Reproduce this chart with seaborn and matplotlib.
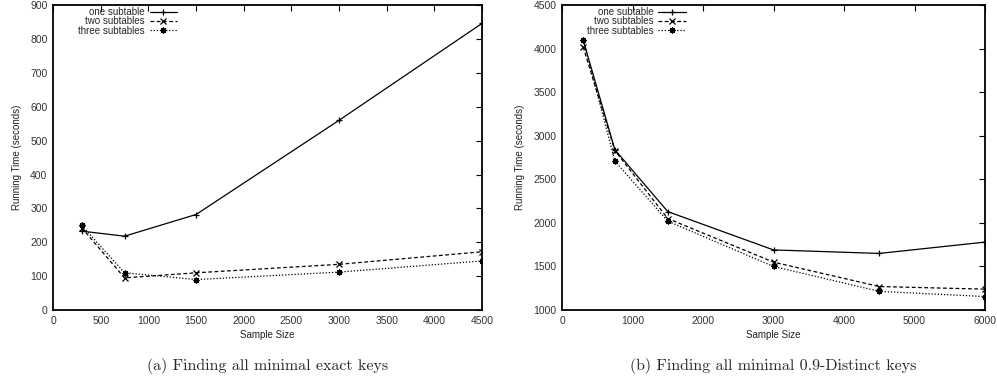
import matplotlib
matplotlib.use("Agg")
import matplotlib.pyplot as plt
import seaborn as sns
import pandas as pd

series_names = ["one subtable", "two subtables", "three subtables"]

# (a) exact keys
x_a = [300, 750, 1500, 3000, 4500]
one_a = [233, 218, 282, 560, 846]
two_a = [243, 95, 110, 135, 172]
three_a = [250, 110, 90, 112, 145]

# (b) 0.9-distinct keys
x_b = [300, 750, 1500, 3000, 4500, 6000]
one_b = [4100, 2840, 2130, 1690, 1650, 1780]
two_b = [4020, 2830, 2050, 1550, 1270, 1240]
three_b = [4100, 2710, 2020, 1500, 1215, 1155]

xticks_a = list(range(0, 4501, 500))
yticks_a = list(range(0, 901, 100))
xticks_b = list(range(0, 6001, 1000))
yticks_b = list(range(1000, 4501, 500))

caption_a = "(a) Finding all minimal exact keys"
caption_b = "(b) Finding all minimal 0.9-Distinct keys"
xlabel = "Sample Size"
ylabel = "Running Time (seconds)"


def long_df(x, ys):
    rows = []
    for name, vals in zip(series_names, ys):
        for xi, yi in zip(x, vals):
            rows.append({"x": xi, "y": yi, "series": name})
    return pd.DataFrame(rows)


sns.set_theme(style="white")
plt.rcParams["font.family"] = ["Liberation Sans", "DejaVu Sans"]

fig = plt.figure(figsize=(9.97, 3.91), dpi=100)
ax_a = fig.add_axes([0.0532, 0.207, 0.4303, 0.780])
ax_b = fig.add_axes([0.5637, 0.207, 0.4243, 0.780])

palette = {n: "black" for n in series_names}
dashes = {series_names[0]: "", series_names[1]: (3, 2), series_names[2]: (1, 1.5)}
markers = {series_names[0]: "+", series_names[1]: "x", series_names[2]: (8, 2, 0)}


def draw(ax, x, ys, xt, yt, xlim, ylim, caption, legx):
    df = long_df(x, ys)
    sns.lineplot(data=df, x="x", y="y", hue="series", style="series",
                 palette=palette, dashes=dashes, markers=markers,
                 markersize=4.2, markeredgewidth=0.9, markeredgecolor="black",
                 markerfacecolor="black", linewidth=0.9,
                 ax=ax, legend=True, sort=False)
    ax.set_xlim(*xlim)
    ax.set_ylim(*ylim)
    ax.set_xticks(xt)
    ax.set_yticks(yt)
    ax.tick_params(axis="both", which="both", direction="in", length=4,
                   width=0.8, labelsize=7.5, top=True, right=True, colors="black",
                   pad=4)
    for lbl in ax.get_xticklabels() + ax.get_yticklabels():
        lbl.set_color("#333333")
    for sp in ax.spines.values():
        sp.set_color("black")
        sp.set_linewidth(1.3)
    ax.set_xlabel(xlabel, fontsize=7, labelpad=3, color="#222222")
    ax.set_ylabel(ylabel, fontsize=7, labelpad=6, color="#222222")
    leg = ax.legend(loc="upper left", bbox_to_anchor=(legx, 1.012), frameon=False,
                    markerfirst=False, fontsize=7, handlelength=2.8,
                    labelspacing=-0.08, handletextpad=0.5, borderaxespad=0.2)
    for t in leg.get_texts():
        t.set_ha("right")
    ax.text(0.5, -0.184, caption, transform=ax.transAxes, ha="center", va="center",
            fontsize=11.5, family=["cmr10", "DejaVu Serif"])


draw(ax_a, x_a, [one_a, two_a, three_a], xticks_a, yticks_a, (0, 4500), (0, 900), caption_a, 0.045)
draw(ax_b, x_b, [one_b, two_b, three_b], xticks_b, yticks_b, (0, 6000), (1000, 4500), caption_b, 0.045)

fig.savefig("out.png", dpi=100)
